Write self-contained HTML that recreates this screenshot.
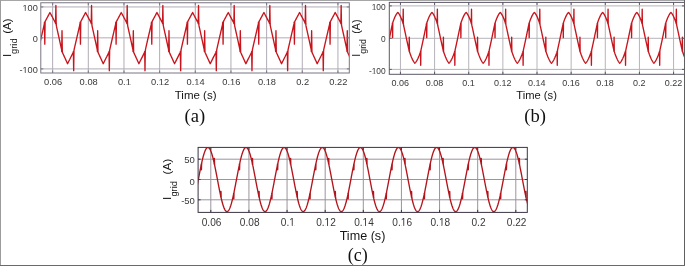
<!DOCTYPE html>
<html><head><meta charset="utf-8"><style>
html,body{margin:0;padding:0;background:#fff;}
body{width:685px;height:266px;overflow:hidden;position:relative;}
svg{position:absolute;left:0;top:0;font-family:"Liberation Sans",sans-serif;-webkit-font-smoothing:antialiased;will-change:transform;}
</style></head><body>
<svg width="685" height="266" viewBox="0 0 685 266">
<g>
<rect x="0" y="0" width="685" height="266" fill="#fff"/>
<clipPath id="ca"><rect x="40.8" y="2.75" width="308.5" height="70.25"/></clipPath>
<path d="M52.65 2.75V73M88.31 2.75V73M123.97 2.75V73M159.63 2.75V73M195.29 2.75V73M230.95 2.75V73M266.61 2.75V73M302.27 2.75V73M337.93 2.75V73M40.8 6.95H349.3M40.8 37.85H349.3M40.8 68.9H349.3" stroke="#b0acb6" stroke-width="1" fill="none"/>
<g clip-path="url(#ca)"><path d="M33.67,60.2 33.92,59.71 34.16,59.21 34.41,58.72 34.66,58.23 34.91,57.73 35.15,57.24 35.4,56.75 35.65,56.25 35.9,55.76 36.14,55.27 36.39,54.78 36.64,54.28 36.89,53.79 37.13,53.3 37.38,52.8 37.63,52.31 37.71,51.55 38.01,70.7 38.31,51.55 38.37,49.97 38.62,48.89 38.87,47.8 39.11,46.71 39.36,45.63 39.61,44.54 39.86,43.46 40.1,42.37 40.35,41.29 40.6,40.2 40.85,39.11 41.09,38.03 41.34,36.96 41.59,35.9 41.84,34.83 42.08,33.77 42.33,32.7 42.58,31.64 42.83,30.57 43.07,29.51 43.32,28.44 43.57,27.38 43.82,26.32 44.06,25.25 44.31,24.19 44.49,22.14 44.79,44.14 45.09,22.14 45.3,21.18 45.55,20.72 45.8,20.26 46.04,19.8 46.29,19.34 46.54,18.88 46.79,18.42 47.03,17.96 47.28,17.5 47.53,17.03 47.78,16.57 48.02,16.11 48.27,15.65 48.52,15.19 48.77,14.73 49.01,14.27 49.26,13.81 49.51,13.35 49.76,12.89 49.96,12.51 50,12.6 50.25,13.07 50.5,13.53 50.75,14 50.99,14.46 51.24,14.93 51.49,15.4 51.74,15.86 51.98,16.33 52.23,16.8 52.48,17.26 52.73,17.73 52.97,18.19 53.22,18.66 53.47,19.13 53.72,19.59 53.96,20.06 54.21,20.52 54.46,20.99 54.71,21.46 54.95,21.92 55.2,22.39 55.45,22.86 55.58,23.66 55.88,5.43 56.18,23.66 56.44,26.19 56.69,27.31 56.93,28.42 57.18,29.54 57.43,30.65 57.68,31.77 57.92,32.88 58.17,34 58.42,35.11 58.67,36.22 58.91,37.34 59.16,38.47 59.41,39.6 59.66,40.74 59.9,41.88 60.15,43.01 60.4,44.15 60.65,45.29 60.9,46.42 61.14,47.56 61.39,48.7 61.64,49.83 61.71,51.55 62.01,30.68 62.31,51.55 62.38,52.35 62.63,52.89 62.88,53.43 63.12,53.97 63.37,54.52 63.62,55.06 63.87,55.6 64.11,56.14 64.36,56.68 64.61,57.22 64.86,57.76 65.1,58.3 65.35,58.84 65.6,59.38 65.85,59.92 66.09,60.46 66.34,61 66.59,61.54 66.84,62.08 67.08,62.62 67.33,63.16 67.57,63.69 67.58,63.68 67.83,63.19 68.07,62.7 68.32,62.21 68.57,61.71 68.82,61.22 69.06,60.73 69.31,60.23 69.56,59.74 69.81,59.25 70.05,58.75 70.3,58.26 70.55,57.77 70.8,57.27 71.04,56.78 71.29,56.29 71.54,55.8 71.79,55.3 72.03,54.81 72.28,54.32 72.53,53.82 72.78,53.33 73.02,52.84 73.27,52.34 73.37,51.55 73.67,70.7 73.97,51.55 74.01,50.05 74.26,48.96 74.51,47.88 74.76,46.79 75,45.7 75.25,44.62 75.5,43.53 75.75,42.45 75.99,41.36 76.24,40.28 76.49,39.19 76.74,38.1 76.98,37.03 77.23,35.97 77.48,34.91 77.73,33.84 77.97,32.78 78.22,31.71 78.47,30.65 78.72,29.58 78.96,28.52 79.21,27.45 79.46,26.39 79.71,25.33 79.95,24.26 80.15,22.14 80.45,44.14 80.75,22.14 80.94,21.21 81.19,20.75 81.44,20.29 81.69,19.83 81.93,19.37 82.18,18.91 82.43,18.45 82.68,17.99 82.92,17.53 83.17,17.07 83.42,16.61 83.67,16.14 83.91,15.68 84.16,15.22 84.41,14.76 84.66,14.3 84.9,13.84 85.15,13.38 85.4,12.92 85.62,12.51 85.65,12.57 85.89,13.03 86.14,13.5 86.39,13.97 86.64,14.43 86.88,14.9 87.13,15.36 87.38,15.83 87.63,16.3 87.87,16.76 88.12,17.23 88.37,17.69 88.62,18.16 88.86,18.63 89.11,19.09 89.36,19.56 89.61,20.03 89.85,20.49 90.1,20.96 90.35,21.42 90.6,21.89 90.84,22.36 91.09,22.82 91.24,23.66 91.54,5.43 91.84,23.66 92.08,26.12 92.33,27.23 92.58,28.34 92.82,29.46 93.07,30.57 93.32,31.69 93.57,32.8 93.81,33.92 94.06,35.03 94.31,36.15 94.56,37.26 94.81,38.39 95.05,39.52 95.3,40.66 95.55,41.8 95.8,42.93 96.04,44.07 96.29,45.21 96.54,46.34 96.79,47.48 97.03,48.62 97.28,49.75 97.37,51.55 97.67,30.68 97.97,51.55 98.02,52.32 98.27,52.86 98.52,53.4 98.77,53.94 99.01,54.48 99.26,55.02 99.51,55.56 99.76,56.1 100,56.64 100.25,57.18 100.5,57.72 100.75,58.26 100.99,58.8 101.24,59.34 101.49,59.88 101.74,60.42 101.98,60.96 102.23,61.5 102.48,62.04 102.73,62.58 102.97,63.12 103.22,63.66 103.23,63.69 103.47,63.23 103.72,62.73 103.96,62.24 104.21,61.75 104.46,61.25 104.71,60.76 104.95,60.27 105.2,59.77 105.45,59.28 105.7,58.79 105.94,58.3 106.19,57.8 106.44,57.31 106.69,56.82 106.93,56.32 107.18,55.83 107.43,55.34 107.68,54.84 107.92,54.35 108.17,53.86 108.42,53.37 108.67,52.87 108.91,52.38 109.03,51.55 109.33,70.7 109.63,51.55 109.66,50.12 109.9,49.04 110.15,47.95 110.4,46.87 110.65,45.78 110.89,44.69 111.14,43.61 111.39,42.52 111.64,41.44 111.88,40.35 112.13,39.27 112.38,38.18 112.63,37.11 112.87,36.04 113.12,34.98 113.37,33.92 113.62,32.85 113.86,31.79 114.11,30.72 114.36,29.66 114.61,28.59 114.85,27.53 115.1,26.46 115.35,25.4 115.6,24.34 115.81,22.14 116.11,44.14 116.41,22.14 116.59,21.25 116.83,20.79 117.08,20.33 117.33,19.86 117.58,19.4 117.82,18.94 118.07,18.48 118.32,18.02 118.57,17.56 118.81,17.1 119.06,16.64 119.31,16.18 119.56,15.72 119.8,15.26 120.05,14.79 120.3,14.33 120.55,13.87 120.79,13.41 121.04,12.95 121.28,12.51 121.29,12.53 121.54,13 121.78,13.47 122.03,13.93 122.28,14.4 122.53,14.87 122.77,15.33 123.02,15.8 123.27,16.26 123.52,16.73 123.76,17.2 124.01,17.66 124.26,18.13 124.51,18.59 124.75,19.06 125,19.53 125.25,19.99 125.5,20.46 125.74,20.93 125.99,21.39 126.24,21.86 126.49,22.32 126.73,22.79 126.9,23.66 127.2,5.43 127.5,23.66 127.72,26.04 127.97,27.15 128.22,28.27 128.47,29.38 128.72,30.5 128.96,31.61 129.21,32.72 129.46,33.84 129.71,34.95 129.95,36.07 130.2,37.18 130.45,38.31 130.7,39.44 130.94,40.58 131.19,41.72 131.44,42.85 131.69,43.99 131.93,45.13 132.18,46.26 132.43,47.4 132.68,48.54 132.92,49.67 133.03,51.55 133.33,30.68 133.63,51.55 133.67,52.28 133.91,52.82 134.16,53.36 134.41,53.9 134.66,54.44 134.9,54.98 135.15,55.52 135.4,56.06 135.65,56.6 135.89,57.14 136.14,57.68 136.39,58.22 136.64,58.76 136.88,59.3 137.13,59.84 137.38,60.38 137.63,60.92 137.87,61.46 138.12,62.01 138.37,62.55 138.62,63.09 138.86,63.63 138.89,63.69 139.11,63.26 139.36,62.77 139.61,62.27 139.85,61.78 140.1,61.29 140.35,60.8 140.6,60.3 140.84,59.81 141.09,59.32 141.34,58.82 141.59,58.33 141.83,57.84 142.08,57.34 142.33,56.85 142.58,56.36 142.82,55.87 143.07,55.37 143.32,54.88 143.57,54.39 143.81,53.89 144.06,53.4 144.31,52.91 144.56,52.41 144.69,51.55 144.99,70.7 145.29,51.55 145.55,49.11 145.79,48.03 146.04,46.94 146.29,45.86 146.54,44.77 146.78,43.68 147.03,42.6 147.28,41.51 147.53,40.43 147.77,39.34 148.02,38.26 148.27,37.18 148.52,36.12 148.76,35.06 149.01,33.99 149.26,32.93 149.51,31.86 149.75,30.8 150,29.73 150.25,28.67 150.5,27.6 150.74,26.54 150.99,25.47 151.24,24.41 151.47,22.14 151.77,44.14 152.07,22.14 152.23,21.28 152.48,20.82 152.72,20.36 152.97,19.9 153.22,19.44 153.47,18.97 153.71,18.51 153.96,18.05 154.21,17.59 154.46,17.13 154.7,16.67 154.95,16.21 155.2,15.75 155.45,15.29 155.69,14.83 155.94,14.37 156.19,13.91 156.44,13.44 156.68,12.98 156.93,12.52 156.94,12.51 157.18,12.97 157.43,13.43 157.67,13.9 157.92,14.37 158.17,14.83 158.42,15.3 158.66,15.76 158.91,16.23 159.16,16.7 159.41,17.16 159.65,17.63 159.9,18.1 160.15,18.56 160.4,19.03 160.64,19.49 160.89,19.96 161.14,20.43 161.39,20.89 161.64,21.36 161.88,21.83 162.13,22.29 162.38,22.76 162.56,23.66 162.86,5.43 163.16,23.66 163.37,25.96 163.62,27.07 163.86,28.19 164.11,29.3 164.36,30.42 164.61,31.53 164.85,32.65 165.1,33.76 165.35,34.88 165.6,35.99 165.84,37.1 166.09,38.23 166.34,39.36 166.59,40.5 166.83,41.64 167.08,42.77 167.33,43.91 167.58,45.05 167.82,46.18 168.07,47.32 168.32,48.46 168.57,49.59 168.69,51.55 168.99,30.68 169.29,51.55 169.31,52.24 169.56,52.78 169.8,53.32 170.05,53.86 170.3,54.4 170.55,54.94 170.79,55.48 171.04,56.02 171.29,56.56 171.54,57.1 171.78,57.64 172.03,58.18 172.28,58.72 172.53,59.27 172.77,59.81 173.02,60.35 173.27,60.89 173.52,61.43 173.76,61.97 174.01,62.51 174.26,63.05 174.51,63.59 174.55,63.69 174.75,63.3 175,62.8 175.25,62.31 175.5,61.82 175.74,61.32 175.99,60.83 176.24,60.34 176.49,59.84 176.73,59.35 176.98,58.86 177.23,58.36 177.48,57.87 177.72,57.38 177.97,56.89 178.22,56.39 178.47,55.9 178.71,55.41 178.96,54.91 179.21,54.42 179.46,53.93 179.7,53.43 179.95,52.94 180.2,52.45 180.35,51.55 180.65,70.7 180.95,51.55 181.19,49.19 181.44,48.1 181.68,47.02 181.93,45.93 182.18,44.85 182.43,43.76 182.67,42.68 182.92,41.59 183.17,40.5 183.42,39.42 183.66,38.33 183.91,37.26 184.16,36.19 184.41,35.13 184.65,34.07 184.9,33 185.15,31.94 185.4,30.87 185.64,29.81 185.89,28.74 186.14,27.68 186.39,26.61 186.63,25.55 186.88,24.48 187.13,22.14 187.43,44.14 187.73,22.14 187.87,21.31 188.12,20.85 188.37,20.39 188.61,19.93 188.86,19.47 189.11,19.01 189.36,18.55 189.6,18.09 189.85,17.62 190.1,17.16 190.35,16.7 190.59,16.24 190.84,15.78 191.09,15.32 191.34,14.86 191.58,14.4 191.83,13.94 192.08,13.48 192.33,13.02 192.57,12.55 192.6,12.51 192.82,12.94 193.07,13.4 193.32,13.87 193.56,14.33 193.81,14.8 194.06,15.27 194.31,15.73 194.55,16.2 194.8,16.66 195.05,17.13 195.3,17.6 195.55,18.06 195.79,18.53 196.04,19 196.29,19.46 196.54,19.93 196.78,20.39 197.03,20.86 197.28,21.33 197.53,21.79 197.77,22.26 198.02,22.72 198.22,23.66 198.52,5.43 198.82,23.66 199.01,25.88 199.26,27 199.51,28.11 199.75,29.22 200,30.34 200.25,31.45 200.5,32.57 200.74,33.68 200.99,34.8 201.24,35.91 201.49,37.03 201.73,38.15 201.98,39.28 202.23,40.42 202.48,41.56 202.72,42.69 202.97,43.83 203.22,44.97 203.47,46.1 203.71,47.24 203.96,48.38 204.21,49.51 204.35,51.55 204.65,30.68 204.95,51.55 205.2,52.74 205.45,53.28 205.69,53.82 205.94,54.36 206.19,54.9 206.44,55.44 206.68,55.98 206.93,56.53 207.18,57.07 207.43,57.61 207.67,58.15 207.92,58.69 208.17,59.23 208.42,59.77 208.66,60.31 208.91,60.85 209.16,61.39 209.41,61.93 209.65,62.47 209.9,63.01 210.15,63.55 210.21,63.69 210.4,63.33 210.64,62.84 210.89,62.34 211.14,61.85 211.39,61.36 211.63,60.86 211.88,60.37 212.13,59.88 212.38,59.39 212.62,58.89 212.87,58.4 213.12,57.91 213.37,57.41 213.61,56.92 213.86,56.43 214.11,55.93 214.36,55.44 214.6,54.95 214.85,54.46 215.1,53.96 215.35,53.47 215.59,52.98 215.84,52.48 216.01,51.55 216.31,70.7 216.61,51.55 216.83,49.27 217.08,48.18 217.33,47.09 217.57,46.01 217.82,44.92 218.07,43.84 218.32,42.75 218.56,41.67 218.81,40.58 219.06,39.49 219.31,38.41 219.55,37.33 219.8,36.27 220.05,35.2 220.3,34.14 220.54,33.08 220.79,32.01 221.04,30.95 221.29,29.88 221.53,28.82 221.78,27.75 222.03,26.69 222.28,25.62 222.52,24.56 222.79,22.14 223.09,44.14 223.39,22.14 223.51,21.34 223.76,20.88 224.01,20.42 224.26,19.96 224.5,19.5 224.75,19.04 225,18.58 225.25,18.12 225.49,17.66 225.74,17.2 225.99,16.74 226.24,16.27 226.48,15.81 226.73,15.35 226.98,14.89 227.23,14.43 227.47,13.97 227.72,13.51 227.97,13.05 228.22,12.59 228.26,12.51 228.46,12.9 228.71,13.37 228.96,13.83 229.21,14.3 229.46,14.77 229.7,15.23 229.95,15.7 230.2,16.17 230.45,16.63 230.69,17.1 230.94,17.56 231.19,18.03 231.44,18.5 231.68,18.96 231.93,19.43 232.18,19.9 232.43,20.36 232.67,20.83 232.92,21.29 233.17,21.76 233.42,22.23 233.66,22.69 233.88,23.66 234.18,5.43 234.48,23.66 234.65,25.8 234.9,26.92 235.15,28.03 235.4,29.15 235.64,30.26 235.89,31.38 236.14,32.49 236.39,33.6 236.63,34.72 236.88,35.83 237.13,36.95 237.38,38.07 237.62,39.2 237.87,40.34 238.12,41.48 238.37,42.61 238.61,43.75 238.86,44.89 239.11,46.02 239.36,47.16 239.6,48.3 239.85,49.43 240.01,51.55 240.31,30.68 240.61,51.55 240.84,52.7 241.09,53.24 241.34,53.79 241.58,54.33 241.83,54.87 242.08,55.41 242.33,55.95 242.57,56.49 242.82,57.03 243.07,57.57 243.32,58.11 243.56,58.65 243.81,59.19 244.06,59.73 244.31,60.27 244.55,60.81 244.8,61.35 245.05,61.89 245.3,62.43 245.54,62.97 245.79,63.51 245.87,63.69 246.04,63.36 246.29,62.87 246.53,62.38 246.78,61.88 247.03,61.39 247.28,60.9 247.52,60.41 247.77,59.91 248.02,59.42 248.27,58.93 248.51,58.43 248.76,57.94 249.01,57.45 249.26,56.95 249.5,56.46 249.75,55.97 250,55.48 250.25,54.98 250.49,54.49 250.74,54 250.99,53.5 251.24,53.01 251.48,52.52 251.67,51.55 251.97,70.7 252.27,51.55 252.47,49.34 252.72,48.26 252.97,47.17 253.22,46.08 253.46,45 253.71,43.91 253.96,42.83 254.21,41.74 254.45,40.66 254.7,39.57 254.95,38.48 255.2,37.41 255.44,36.34 255.69,35.28 255.94,34.21 256.19,33.15 256.43,32.09 256.68,31.02 256.93,29.96 257.18,28.89 257.42,27.83 257.67,26.76 257.92,25.7 258.17,24.63 258.41,23.57 258.45,22.14 258.75,44.14 259.05,22.14 259.16,21.38 259.4,20.92 259.65,20.45 259.9,19.99 260.15,19.53 260.39,19.07 260.64,18.61 260.89,18.15 261.14,17.69 261.38,17.23 261.63,16.77 261.88,16.31 262.13,15.85 262.38,15.38 262.62,14.92 262.87,14.46 263.12,14 263.37,13.54 263.61,13.08 263.86,12.62 263.92,12.51 264.11,12.87 264.36,13.34 264.6,13.8 264.85,14.27 265.1,14.73 265.35,15.2 265.59,15.67 265.84,16.13 266.09,16.6 266.34,17.07 266.58,17.53 266.83,18 267.08,18.46 267.33,18.93 267.57,19.4 267.82,19.86 268.07,20.33 268.32,20.79 268.56,21.26 268.81,21.73 269.06,22.19 269.31,22.66 269.54,23.66 269.84,5.43 270.14,23.66 270.3,25.72 270.54,26.84 270.79,27.95 271.04,29.07 271.29,30.18 271.53,31.3 271.78,32.41 272.03,33.53 272.28,34.64 272.52,35.76 272.77,36.87 273.02,37.99 273.27,39.12 273.51,40.26 273.76,41.4 274.01,42.53 274.26,43.67 274.5,44.81 274.75,45.94 275,47.08 275.25,48.22 275.49,49.35 275.67,51.55 275.97,30.68 276.27,51.55 276.48,52.67 276.73,53.21 276.98,53.75 277.23,54.29 277.47,54.83 277.72,55.37 277.97,55.91 278.22,56.45 278.46,56.99 278.71,57.53 278.96,58.07 279.21,58.61 279.45,59.15 279.7,59.69 279.95,60.23 280.2,60.77 280.44,61.31 280.69,61.85 280.94,62.39 281.19,62.93 281.43,63.48 281.53,63.69 281.68,63.4 281.93,62.91 282.18,62.41 282.42,61.92 282.67,61.43 282.92,60.93 283.17,60.44 283.41,59.95 283.66,59.45 283.91,58.96 284.16,58.47 284.4,57.98 284.65,57.48 284.9,56.99 285.15,56.5 285.39,56 285.64,55.51 285.89,55.02 286.14,54.52 286.38,54.03 286.63,53.54 286.88,53.05 287.13,52.55 287.33,51.55 287.63,70.7 287.93,51.55 288.12,49.42 288.36,48.33 288.61,47.25 288.86,46.16 289.11,45.07 289.35,43.99 289.6,42.9 289.85,41.82 290.1,40.73 290.34,39.65 290.59,38.56 290.84,37.48 291.09,36.42 291.33,35.35 291.58,34.29 291.83,33.22 292.08,32.16 292.32,31.1 292.57,30.03 292.82,28.97 293.07,27.9 293.31,26.84 293.56,25.77 293.81,24.71 294.06,23.64 294.11,22.14 294.41,44.14 294.71,22.14 294.8,21.41 295.05,20.95 295.29,20.49 295.54,20.03 295.79,19.57 296.04,19.1 296.29,18.64 296.53,18.18 296.78,17.72 297.03,17.26 297.28,16.8 297.52,16.34 297.77,15.88 298.02,15.42 298.27,14.96 298.51,14.5 298.76,14.03 299.01,13.57 299.26,13.11 299.5,12.65 299.58,12.51 299.75,12.84 300,13.3 300.25,13.77 300.49,14.24 300.74,14.7 300.99,15.17 301.24,15.63 301.48,16.1 301.73,16.57 301.98,17.03 302.23,17.5 302.47,17.96 302.72,18.43 302.97,18.9 303.22,19.36 303.46,19.83 303.71,20.3 303.96,20.76 304.21,21.23 304.45,21.69 304.7,22.16 304.95,22.63 305.2,23.66 305.5,5.43 305.8,23.66 305.94,25.65 306.19,26.76 306.43,27.88 306.68,28.99 306.93,30.1 307.18,31.22 307.42,32.33 307.67,33.45 307.92,34.56 308.17,35.68 308.41,36.79 308.66,37.91 308.91,39.04 309.16,40.18 309.4,41.32 309.65,42.45 309.9,43.59 310.15,44.73 310.39,45.86 310.64,47 310.89,48.14 311.14,49.28 311.33,51.55 311.63,30.68 311.93,51.55 312.13,52.63 312.37,53.17 312.62,53.71 312.87,54.25 313.12,54.79 313.36,55.33 313.61,55.87 313.86,56.41 314.11,56.95 314.35,57.49 314.6,58.03 314.85,58.57 315.1,59.11 315.34,59.65 315.59,60.19 315.84,60.74 316.09,61.28 316.33,61.82 316.58,62.36 316.83,62.9 317.08,63.44 317.19,63.69 317.32,63.43 317.57,62.94 317.82,62.45 318.07,61.95 318.31,61.46 318.56,60.97 318.81,60.48 319.06,59.98 319.3,59.49 319.55,59 319.8,58.5 320.05,58.01 320.29,57.52 320.54,57.02 320.79,56.53 321.04,56.04 321.28,55.54 321.53,55.05 321.78,54.56 322.03,54.07 322.27,53.57 322.52,53.08 322.77,52.59 322.99,51.55 323.29,70.7 323.59,51.55 323.76,49.49 324.01,48.41 324.25,47.32 324.5,46.24 324.75,45.15 325,44.07 325.24,42.98 325.49,41.89 325.74,40.81 325.99,39.72 326.23,38.64 326.48,37.56 326.73,36.49 326.98,35.43 327.22,34.36 327.47,33.3 327.72,32.23 327.97,31.17 328.21,30.11 328.46,29.04 328.71,27.98 328.96,26.91 329.2,25.85 329.45,24.78 329.7,23.72 329.77,22.14 330.07,44.14 330.37,22.14 330.44,21.44 330.69,20.98 330.94,20.52 331.19,20.06 331.43,19.6 331.68,19.14 331.93,18.68 332.18,18.21 332.42,17.75 332.67,17.29 332.92,16.83 333.17,16.37 333.41,15.91 333.66,15.45 333.91,14.99 334.16,14.53 334.4,14.07 334.65,13.61 334.9,13.14 335.15,12.68 335.24,12.51 335.39,12.8 335.64,13.27 335.89,13.74 336.14,14.2 336.38,14.67 336.63,15.14 336.88,15.6 337.13,16.07 337.37,16.53 337.62,17 337.87,17.47 338.12,17.93 338.36,18.4 338.61,18.86 338.86,19.33 339.11,19.8 339.35,20.26 339.6,20.73 339.85,21.2 340.1,21.66 340.34,22.13 340.59,22.59 340.84,23.06 340.86,23.66 341.16,5.43 341.46,23.66 341.58,25.57 341.83,26.68 342.08,27.8 342.32,28.91 342.57,30.03 342.82,31.14 343.07,32.26 343.31,33.37 343.56,34.48 343.81,35.6 344.06,36.71 344.3,37.83 344.55,38.96 344.8,40.1 345.05,41.24 345.29,42.38 345.54,43.51 345.79,44.65 346.04,45.79 346.28,46.92 346.53,48.06 346.78,49.2 346.99,51.55 347.29,30.68 347.59,51.55 347.77,52.59 348.02,53.13 348.26,53.67 348.51,54.21 348.76,54.75 349.01,55.29 349.25,55.83 349.5,56.37 349.75,56.91 350,57.45 350.24,57.99 350.49,58.54 350.74,59.08 350.99,59.62 351.23,60.16 351.48,60.7 351.73,61.24 351.98,61.78 352.22,62.32 352.47,62.86 352.72,63.4 352.85,63.69 352.97,63.47 353.21,62.97 353.46,62.48 353.71,61.99 353.96,61.5 354.2,61 354.45,60.51 354.7,60.02 354.95,59.52 355.19,59.03 355.44,58.54 355.69,58.04 355.94,57.55 356.18,57.06 356.43,56.57" stroke="#c8141c" stroke-width="1.35" fill="none" stroke-linejoin="round"/></g>
<path d="M52.65 73v-2.5M52.65 2.75v2.5M88.31 73v-2.5M88.31 2.75v2.5M123.97 73v-2.5M123.97 2.75v2.5M159.63 73v-2.5M159.63 2.75v2.5M195.29 73v-2.5M195.29 2.75v2.5M230.95 73v-2.5M230.95 2.75v2.5M266.61 73v-2.5M266.61 2.75v2.5M302.27 73v-2.5M302.27 2.75v2.5M337.93 73v-2.5M337.93 2.75v2.5M40.8 6.95h2.5M349.3 6.95h-2.5M40.8 37.85h2.5M349.3 37.85h-2.5M40.8 68.9h2.5M349.3 68.9h-2.5" stroke="#7a7684" stroke-width="1" fill="none"/>
<rect x="40.8" y="2.75" width="308.5" height="70.25" stroke="#7a7684" stroke-width="1" fill="none"/>
<text transform="translate(43.96,85.15) scale(1.07,1)" font-size="8.7" fill="#383838">0.06</text>
<text transform="translate(79.62,85.15) scale(1.07,1)" font-size="8.7" fill="#383838">0.08</text>
<g transform="translate(117.9,85.15) scale(1.07,1)"><text x="0" y="0" font-size="8.7" fill="#383838">0.1</text><g fill="#fff"><rect x="7.77" y="-0.73" width="1.68" height="1.28"/><rect x="10.21" y="-0.73" width="1.61" height="1.28"/></g></g>
<g transform="translate(150.97,85.15) scale(1.07,1)"><text x="0" y="0" font-size="8.7" fill="#383838">0.12</text><g fill="#fff"><rect x="7.77" y="-0.73" width="1.68" height="1.28"/><rect x="10.21" y="-0.73" width="1.61" height="1.28"/></g></g>
<g transform="translate(186.54,85.15) scale(1.07,1)"><text x="0" y="0" font-size="8.7" fill="#383838">0.14</text><g fill="#fff"><rect x="7.77" y="-0.73" width="1.68" height="1.28"/><rect x="10.21" y="-0.73" width="1.61" height="1.28"/></g></g>
<g transform="translate(222.26,85.15) scale(1.07,1)"><text x="0" y="0" font-size="8.7" fill="#383838">0.16</text><g fill="#fff"><rect x="7.77" y="-0.73" width="1.68" height="1.28"/><rect x="10.21" y="-0.73" width="1.61" height="1.28"/></g></g>
<g transform="translate(257.92,85.15) scale(1.07,1)"><text x="0" y="0" font-size="8.7" fill="#383838">0.18</text><g fill="#fff"><rect x="7.77" y="-0.73" width="1.68" height="1.28"/><rect x="10.21" y="-0.73" width="1.61" height="1.28"/></g></g>
<text transform="translate(296.2,85.15) scale(1.07,1)" font-size="8.7" fill="#383838">0.2</text>
<text transform="translate(329.27,85.15) scale(1.07,1)" font-size="8.7" fill="#383838">0.22</text>
<g transform="translate(22.51,10.55) scale(1.07,1)"><text x="0" y="0" font-size="8.6" fill="#383838">100</text><g fill="#fff"><rect x="0.5" y="-0.72" width="1.66" height="1.27"/><rect x="2.92" y="-0.72" width="1.6" height="1.27"/></g></g>
<text transform="translate(32.74,41.65) scale(1.07,1)" font-size="8.6" fill="#383838">0</text>
<g transform="translate(19.44,72.65) scale(1.07,1)"><text x="0" y="0" font-size="8.6" fill="#383838">-100</text><g fill="#fff"><rect x="3.37" y="-0.72" width="1.66" height="1.27"/><rect x="5.79" y="-0.72" width="1.6" height="1.27"/></g></g>
<text x="174.75" y="99.2" font-size="11.5" fill="#161616">Time (s)</text>
<text transform="translate(10.9,57.1) rotate(-90)" font-size="11.5" fill="#161616">I</text>
<text transform="translate(16.8,53.9) rotate(-90)" font-size="9.3" fill="#161616">grid</text>
<text transform="translate(10.9,33.76) rotate(-90)" font-size="11.5" fill="#161616">(A)</text>
<text x="184.58" y="121.5" font-size="18.6" fill="#111" font-family="Liberation Serif">(a)</text>
<clipPath id="cb"><rect x="389.3" y="2.4" width="295.2" height="71.9"/></clipPath>
<path d="M400.45 2.4V74.3M434.59 2.4V74.3M468.73 2.4V74.3M502.87 2.4V74.3M537.01 2.4V74.3M571.15 2.4V74.3M605.29 2.4V74.3M639.43 2.4V74.3M673.57 2.4V74.3M389.3 5.9H684.5M389.3 38.3H684.5M389.3 69.4H684.5" stroke="#b6b4ba" stroke-width="1" fill="none"/>
<g clip-path="url(#cb)"><path d="M382.47,60.94 382.71,60.53 382.95,60.11 383.18,59.66 383.42,59.19 383.66,58.7 383.89,58.19 384.13,57.66 384.37,57.11 384.61,56.54 384.84,55.96 385.08,55.36 385.32,54.74 385.55,54.1 385.79,53.45 386.03,52.79 386.26,52.11 386.38,51.26 386.56,65.25 386.73,51.26 386.98,49.39 387.21,48.33 387.45,47.25 387.69,46.17 387.92,45.08 388.16,43.99 388.4,42.89 388.63,41.79 388.87,40.68 389.11,39.57 389.35,38.46 389.58,37.32 389.82,36.16 390.06,35.01 390.29,33.86 390.53,32.72 390.77,31.58 391.01,30.45 391.24,29.33 391.48,28.22 391.72,27.11 391.95,26.02 392.19,24.94 392.42,23.11 392.6,37.69 392.77,23.11 392.9,22.22 393.14,21.55 393.38,20.89 393.61,20.25 393.85,19.63 394.09,19.03 394.32,18.44 394.56,17.88 394.8,17.34 395.03,16.81 395.27,16.31 395.51,15.83 395.75,15.37 395.98,14.94 396.22,14.53 396.46,14.14 396.69,13.78 396.93,13.44 397.17,13.12 397.41,12.83 397.64,12.56 397.82,12.38 397.88,12.44 398.12,12.7 398.35,12.98 398.59,13.29 398.83,13.62 399.06,13.97 399.3,14.35 399.54,14.75 399.78,15.18 400.01,15.63 400.25,16.1 400.49,16.6 400.72,17.11 400.96,17.65 401.2,18.21 401.43,18.79 401.67,19.39 401.91,20 402.15,20.64 402.38,21.29 402.62,21.96 402.86,22.64 403.04,23.7 403.22,9.12 403.39,23.7 403.57,25.25 403.81,26.31 404.04,27.38 404.28,28.46 404.52,29.55 404.75,30.64 404.99,31.75 405.23,32.86 405.46,33.97 405.7,35.09 405.94,36.21 406.18,37.34 406.41,38.45 406.65,39.53 406.89,40.61 407.12,41.69 407.36,42.76 407.6,43.83 407.83,44.89 408.07,45.94 408.31,46.99 408.55,48.03 408.78,49.07 409.02,50.09 409.08,51.1 409.26,37.06 409.43,51.1 409.49,51.81 409.73,52.51 409.97,53.19 410.21,53.87 410.44,54.52 410.68,55.16 410.92,55.78 411.15,56.39 411.39,56.97 411.63,57.54 411.86,58.09 412.1,58.62 412.34,59.13 412.58,59.61 412.81,60.08 413.05,60.52 413.29,60.94 413.52,61.34 413.76,61.71 414,62.06 414.23,62.39 414.47,62.7 414.71,62.98 414.89,63.18 414.95,63.13 415.18,62.89 415.42,62.62 415.66,62.33 415.89,62.02 416.13,61.69 416.37,61.33 416.6,60.95 416.84,60.55 417.08,60.12 417.32,59.67 417.55,59.21 417.79,58.72 418.03,58.21 418.26,57.68 418.5,57.13 418.74,56.56 418.98,55.98 419.21,55.37 419.45,54.75 419.69,54.12 419.92,53.47 420.16,52.81 420.4,52.13 420.52,51.26 420.7,65.25 420.87,51.26 421.11,49.43 421.35,48.36 421.58,47.29 421.82,46.21 422.06,45.12 422.29,44.02 422.53,42.92 422.77,41.82 423,40.71 423.24,39.61 423.48,38.5 423.72,37.35 423.95,36.2 424.19,35.05 424.43,33.9 424.66,32.76 424.9,31.62 425.14,30.49 425.38,29.36 425.61,28.25 425.85,27.14 426.09,26.05 426.32,24.97 426.56,23.11 426.74,37.69 426.91,23.11 427.03,22.24 427.27,21.57 427.51,20.91 427.75,20.27 427.98,19.65 428.22,19.05 428.46,18.46 428.69,17.9 428.93,17.35 429.17,16.83 429.4,16.33 429.64,15.84 429.88,15.39 430.12,14.95 430.35,14.54 430.59,14.15 430.83,13.79 431.06,13.45 431.3,13.13 431.54,12.84 431.78,12.57 431.96,12.38 432.01,12.43 432.25,12.69 432.49,12.97 432.72,13.28 432.96,13.61 433.2,13.96 433.43,14.34 433.67,14.74 433.91,15.17 434.15,15.62 434.38,16.09 434.62,16.58 434.86,17.1 435.09,17.64 435.33,18.19 435.57,18.77 435.8,19.37 436.04,19.98 436.28,20.62 436.52,21.27 436.75,21.94 436.99,22.62 437.18,23.7 437.36,9.12 437.53,23.7 437.7,25.22 437.94,26.28 438.18,27.35 438.41,28.43 438.65,29.51 438.89,30.61 439.12,31.71 439.36,32.82 439.6,33.94 439.83,35.06 440.07,36.18 440.31,37.3 440.55,38.42 440.78,39.5 441.02,40.58 441.26,41.65 441.49,42.73 441.73,43.79 441.97,44.86 442.2,45.91 442.44,46.96 442.68,48 442.92,49.03 443.15,50.06 443.22,51.1 443.4,37.06 443.57,51.1 443.63,51.79 443.86,52.49 444.1,53.17 444.34,53.85 444.58,54.5 444.81,55.14 445.05,55.77 445.29,56.37 445.52,56.96 445.76,57.53 446,58.07 446.23,58.6 446.47,59.11 446.71,59.6 446.95,60.06 447.18,60.51 447.42,60.93 447.66,61.33 447.89,61.7 448.13,62.05 448.37,62.38 448.6,62.69 448.84,62.97 449.03,63.18 449.08,63.13 449.32,62.89 449.55,62.63 449.79,62.34 450.03,62.03 450.26,61.7 450.5,61.34 450.74,60.96 450.97,60.56 451.21,60.13 451.45,59.69 451.69,59.22 451.92,58.73 452.16,58.22 452.4,57.69 452.63,57.15 452.87,56.58 453.11,55.99 453.35,55.39 453.58,54.77 453.82,54.14 454.06,53.49 454.29,52.83 454.53,52.15 454.66,51.26 454.84,65.25 455.01,51.26 455.24,49.46 455.48,48.39 455.72,47.32 455.95,46.24 456.19,45.15 456.43,44.05 456.66,42.96 456.9,41.85 457.14,40.75 457.37,39.64 457.61,38.53 457.85,37.39 458.09,36.23 458.32,35.08 458.56,33.93 458.8,32.79 459.03,31.65 459.27,30.52 459.51,29.4 459.75,28.28 459.98,27.18 460.22,26.08 460.46,25 460.69,23.93 460.7,23.11 460.88,37.69 461.05,23.11 461.17,22.26 461.4,21.59 461.64,20.93 461.88,20.29 462.12,19.67 462.35,19.06 462.59,18.48 462.83,17.91 463.06,17.37 463.3,16.84 463.54,16.34 463.77,15.86 464.01,15.4 464.25,14.96 464.49,14.55 464.72,14.16 464.96,13.8 465.2,13.46 465.43,13.14 465.67,12.85 465.91,12.58 466.1,12.38 466.15,12.42 466.38,12.68 466.62,12.96 466.86,13.27 467.09,13.6 467.33,13.95 467.57,14.33 467.8,14.73 468.04,15.16 468.28,15.6 468.52,16.07 468.75,16.57 468.99,17.08 469.23,17.62 469.46,18.18 469.7,18.75 469.94,19.35 470.17,19.97 470.41,20.6 470.65,21.25 470.89,21.92 471.12,22.6 471.32,23.7 471.5,9.12 471.67,23.7 471.83,25.19 472.07,26.25 472.31,27.32 472.55,28.39 472.78,29.48 473.02,30.58 473.26,31.68 473.49,32.79 473.73,33.9 473.97,35.02 474.2,36.15 474.44,37.27 474.68,38.39 474.92,39.47 475.15,40.55 475.39,41.62 475.63,42.69 475.86,43.76 476.1,44.83 476.34,45.88 476.57,46.93 476.81,47.97 477.05,49 477.29,50.03 477.36,51.1 477.54,37.06 477.71,51.1 477.76,51.77 478,52.47 478.23,53.15 478.47,53.83 478.71,54.48 478.95,55.12 479.18,55.75 479.42,56.35 479.66,56.94 479.89,57.51 480.13,58.06 480.37,58.59 480.6,59.1 480.84,59.58 481.08,60.05 481.32,60.49 481.55,60.92 481.79,61.32 482.03,61.69 482.26,62.04 482.5,62.37 482.74,62.68 482.97,62.96 483.17,63.18 483.21,63.14 483.45,62.9 483.69,62.64 483.92,62.35 484.16,62.04 484.4,61.71 484.63,61.35 484.87,60.97 485.11,60.57 485.34,60.15 485.58,59.7 485.82,59.23 486.06,58.75 486.29,58.24 486.53,57.71 486.77,57.16 487,56.6 487.24,56.01 487.48,55.41 487.72,54.79 487.95,54.16 488.19,53.51 488.43,52.85 488.66,52.17 488.8,51.26 488.98,65.25 489.15,51.26 489.37,49.49 489.61,48.42 489.85,47.35 490.09,46.27 490.32,45.18 490.56,44.09 490.8,42.99 491.03,41.89 491.27,40.78 491.51,39.67 491.74,38.56 491.98,37.42 492.22,36.27 492.46,35.11 492.69,33.97 492.93,32.82 493.17,31.69 493.4,30.55 493.64,29.43 493.88,28.32 494.12,27.21 494.35,26.11 494.59,25.03 494.83,23.96 494.84,23.11 495.02,37.69 495.19,23.11 495.3,22.28 495.54,21.61 495.77,20.95 496.01,20.31 496.25,19.69 496.49,19.08 496.72,18.5 496.96,17.93 497.2,17.38 497.43,16.86 497.67,16.35 497.91,15.87 498.14,15.41 498.38,14.98 498.62,14.56 498.86,14.17 499.09,13.81 499.33,13.47 499.57,13.15 499.8,12.86 500.04,12.59 500.24,12.38 500.28,12.42 500.52,12.67 500.75,12.95 500.99,13.26 501.23,13.59 501.46,13.94 501.7,14.32 501.94,14.72 502.17,15.14 502.41,15.59 502.65,16.06 502.89,16.55 503.12,17.07 503.36,17.6 503.6,18.16 503.83,18.74 504.07,19.33 504.31,19.95 504.54,20.58 504.78,21.23 505.02,21.9 505.26,22.58 505.46,23.7 505.64,9.12 505.81,23.7 505.97,25.16 506.2,26.22 506.44,27.28 506.68,28.36 506.92,29.45 507.15,30.55 507.39,31.65 507.63,32.76 507.86,33.87 508.1,34.99 508.34,36.11 508.57,37.24 508.81,38.36 509.05,39.44 509.29,40.51 509.52,41.59 509.76,42.66 510,43.73 510.23,44.79 510.47,45.85 510.71,46.9 510.94,47.94 511.18,48.97 511.42,50 511.5,51.1 511.68,37.06 511.85,51.1 511.89,51.75 512.13,52.45 512.37,53.13 512.6,53.81 512.84,54.46 513.08,55.1 513.32,55.73 513.55,56.34 513.79,56.92 514.03,57.49 514.26,58.04 514.5,58.57 514.74,59.08 514.97,59.57 515.21,60.04 515.45,60.48 515.69,60.9 515.92,61.3 516.16,61.68 516.4,62.03 516.63,62.37 516.87,62.67 517.11,62.96 517.31,63.18 517.34,63.15 517.58,62.91 517.82,62.65 518.06,62.36 518.29,62.05 518.53,61.72 518.77,61.36 519,60.98 519.24,60.58 519.48,60.16 519.71,59.72 519.95,59.25 520.19,58.76 520.43,58.25 520.66,57.73 520.9,57.18 521.14,56.61 521.37,56.03 521.61,55.43 521.85,54.81 522.09,54.18 522.32,53.53 522.56,52.86 522.8,52.19 522.94,51.26 523.12,65.25 523.29,51.26 523.51,49.52 523.74,48.46 523.98,47.38 524.22,46.3 524.46,45.21 524.69,44.12 524.93,43.02 525.17,41.92 525.4,40.81 525.64,39.7 525.88,38.6 526.11,37.45 526.35,36.3 526.59,35.15 526.83,34 527.06,32.86 527.3,31.72 527.54,30.59 527.77,29.46 528.01,28.35 528.25,27.24 528.49,26.15 528.72,25.06 528.96,23.99 528.98,23.11 529.16,37.69 529.33,23.11 529.43,22.3 529.67,21.63 529.91,20.97 530.14,20.33 530.38,19.7 530.62,19.1 530.86,18.51 531.09,17.95 531.33,17.4 531.57,16.87 531.8,16.37 532.04,15.89 532.28,15.43 532.51,14.99 532.75,14.58 532.99,14.18 533.23,13.82 533.46,13.48 533.7,13.16 533.94,12.86 534.17,12.59 534.38,12.38 534.41,12.41 534.65,12.67 534.89,12.94 535.12,13.25 535.36,13.58 535.6,13.93 535.83,14.31 536.07,14.71 536.31,15.13 536.54,15.58 536.78,16.05 537.02,16.54 537.26,17.05 537.49,17.59 537.73,18.14 537.97,18.72 538.2,19.31 538.44,19.93 538.68,20.56 538.91,21.21 539.15,21.88 539.39,22.56 539.6,23.7 539.78,9.12 539.95,23.7 540.1,25.13 540.34,26.18 540.57,27.25 540.81,28.33 541.05,29.42 541.29,30.51 541.52,31.62 541.76,32.72 542,33.84 542.23,34.96 542.47,36.08 542.71,37.2 542.94,38.33 543.18,39.4 543.42,40.48 543.66,41.56 543.89,42.63 544.13,43.7 544.37,44.76 544.6,45.82 544.84,46.87 545.08,47.91 545.31,48.94 545.55,49.97 545.64,51.1 545.82,37.06 545.99,51.1 546.03,51.73 546.26,52.43 546.5,53.11 546.74,53.79 546.97,54.44 547.21,55.09 547.45,55.71 547.69,56.32 547.92,56.91 548.16,57.48 548.4,58.03 548.63,58.56 548.87,59.07 549.11,59.56 549.34,60.02 549.58,60.47 549.82,60.89 550.06,61.29 550.29,61.67 550.53,62.02 550.77,62.36 551,62.66 551.24,62.95 551.45,63.18 551.48,63.15 551.71,62.92 551.95,62.66 552.19,62.37 552.43,62.06 552.66,61.73 552.9,61.37 553.14,61 553.37,60.6 553.61,60.17 553.85,59.73 554.09,59.26 554.32,58.78 554.56,58.27 554.8,57.74 555.03,57.2 555.27,56.63 555.51,56.05 555.74,55.45 555.98,54.83 556.22,54.2 556.46,53.55 556.69,52.88 556.93,52.21 557.08,51.26 557.26,65.25 557.43,51.26 557.64,49.55 557.88,48.49 558.11,47.41 558.35,46.33 558.59,45.25 558.83,44.15 559.06,43.05 559.3,41.95 559.54,40.85 559.77,39.74 560.01,38.63 560.25,37.49 560.48,36.33 560.72,35.18 560.96,34.03 561.2,32.89 561.43,31.75 561.67,30.62 561.91,29.5 562.14,28.38 562.38,27.28 562.62,26.18 562.86,25.1 563.09,24.02 563.12,23.11 563.3,37.69 563.47,23.11 563.57,22.32 563.8,21.65 564.04,20.99 564.28,20.35 564.51,19.72 564.75,19.12 564.99,18.53 565.23,17.96 565.46,17.42 565.7,16.89 565.94,16.38 566.17,15.9 566.41,15.44 566.65,15 566.88,14.59 567.12,14.2 567.36,13.83 567.6,13.49 567.83,13.17 568.07,12.87 568.31,12.6 568.52,12.38 568.54,12.4 568.78,12.66 569.02,12.94 569.26,13.24 569.49,13.57 569.73,13.92 569.97,14.29 570.2,14.69 570.44,15.12 570.68,15.56 570.91,16.03 571.15,16.52 571.39,17.04 571.63,17.57 571.86,18.13 572.1,18.7 572.34,19.3 572.57,19.91 572.81,20.54 573.05,21.19 573.28,21.86 573.52,22.54 573.74,23.7 573.92,9.12 574.09,23.7 574.23,25.1 574.47,26.15 574.71,27.22 574.94,28.3 575.18,29.39 575.42,30.48 575.66,31.58 575.89,32.69 576.13,33.81 576.37,34.92 576.6,36.05 576.84,37.17 577.08,38.29 577.31,39.37 577.55,40.45 577.79,41.53 578.03,42.6 578.26,43.67 578.5,44.73 578.74,45.79 578.97,46.84 579.21,47.88 579.45,48.91 579.68,49.94 579.78,51.1 579.96,37.06 580.13,51.1 580.16,51.71 580.4,52.41 580.63,53.09 580.87,53.77 581.11,54.43 581.34,55.07 581.58,55.69 581.82,56.3 582.06,56.89 582.29,57.46 582.53,58.01 582.77,58.54 583,59.05 583.24,59.54 583.48,60.01 583.71,60.46 583.95,60.88 584.19,61.28 584.43,61.66 584.66,62.01 584.9,62.35 585.14,62.65 585.37,62.94 585.59,63.18 585.61,63.16 585.85,62.92 586.08,62.66 586.32,62.38 586.56,62.07 586.8,61.74 587.03,61.39 587.27,61.01 587.51,60.61 587.74,60.19 587.98,59.74 588.22,59.28 588.46,58.79 588.69,58.28 588.93,57.76 589.17,57.21 589.4,56.65 589.64,56.06 589.88,55.46 590.11,54.85 590.35,54.21 590.59,53.57 590.83,52.9 591.06,52.23 591.22,51.26 591.4,65.25 591.57,51.26 591.77,49.58 592.01,48.52 592.25,47.45 592.48,46.37 592.72,45.28 592.96,44.18 593.2,43.09 593.43,41.98 593.67,40.88 593.91,39.77 594.14,38.66 594.38,37.52 594.62,36.37 594.85,35.22 595.09,34.07 595.33,32.92 595.57,31.79 595.8,30.65 596.04,29.53 596.28,28.41 596.51,27.31 596.75,26.21 596.99,25.13 597.23,24.06 597.26,23.11 597.44,37.69 597.61,23.11 597.7,22.34 597.94,21.67 598.17,21.01 598.41,20.37 598.65,19.74 598.88,19.13 599.12,18.55 599.36,17.98 599.6,17.43 599.83,16.9 600.07,16.4 600.31,15.91 600.54,15.45 600.78,15.01 601.02,14.6 601.25,14.21 601.49,13.84 601.73,13.5 601.97,13.18 602.2,12.88 602.44,12.61 602.66,12.38 602.68,12.4 602.91,12.65 603.15,12.93 603.39,13.23 603.63,13.56 603.86,13.91 604.1,14.28 604.34,14.68 604.57,15.1 604.81,15.55 605.05,16.02 605.28,16.51 605.52,17.02 605.76,17.55 606,18.11 606.23,18.68 606.47,19.28 606.71,19.89 606.94,20.52 607.18,21.17 607.42,21.84 607.65,22.52 607.88,23.7 608.06,9.12 608.23,23.7 608.37,25.07 608.6,26.12 608.84,27.19 609.08,28.27 609.31,29.35 609.55,30.45 609.79,31.55 610.03,32.66 610.26,33.77 610.5,34.89 610.74,36.01 610.97,37.14 611.21,38.26 611.45,39.34 611.68,40.42 611.92,41.5 612.16,42.57 612.4,43.64 612.63,44.7 612.87,45.76 613.11,46.81 613.34,47.85 613.58,48.88 613.82,49.91 613.92,51.1 614.1,37.06 614.27,51.1 614.29,51.68 614.53,52.39 614.77,53.07 615,53.75 615.24,54.41 615.48,55.05 615.71,55.67 615.95,56.28 616.19,56.87 616.43,57.44 616.66,57.99 616.9,58.53 617.14,59.04 617.37,59.53 617.61,60 617.85,60.44 618.08,60.87 618.32,61.27 618.56,61.65 618.8,62 619.03,62.34 619.27,62.65 619.51,62.93 619.73,63.18 619.74,63.17 619.98,62.93 620.22,62.67 620.45,62.39 620.69,62.08 620.93,61.75 621.17,61.4 621.4,61.02 621.64,60.62 621.88,60.2 622.11,59.76 622.35,59.29 622.59,58.81 622.83,58.3 623.06,57.77 623.3,57.23 623.54,56.66 623.77,56.08 624.01,55.48 624.25,54.87 624.48,54.23 624.72,53.59 624.96,52.92 625.2,52.25 625.36,51.26 625.54,65.25 625.71,51.26 625.91,49.61 626.14,48.55 626.38,47.48 626.62,46.4 626.85,45.31 627.09,44.22 627.33,43.12 627.57,42.02 627.8,40.91 628.04,39.8 628.28,38.69 628.51,37.56 628.75,36.4 628.99,35.25 629.22,34.1 629.46,32.96 629.7,31.82 629.94,30.69 630.17,29.56 630.41,28.45 630.65,27.34 630.88,26.24 631.12,25.16 631.36,24.09 631.4,23.11 631.58,37.69 631.75,23.11 631.83,22.36 632.07,21.69 632.31,21.03 632.54,20.39 632.78,19.76 633.02,19.15 633.25,18.56 633.49,18 633.73,17.45 633.97,16.92 634.2,16.41 634.44,15.93 634.68,15.47 634.91,15.03 635.15,14.61 635.39,14.22 635.62,13.85 635.86,13.51 636.1,13.19 636.34,12.89 636.57,12.62 636.8,12.38 636.81,12.39 637.05,12.64 637.28,12.92 637.52,13.22 637.76,13.55 638,13.9 638.23,14.27 638.47,14.67 638.71,15.09 638.94,15.54 639.18,16 639.42,16.49 639.65,17.01 639.89,17.54 640.13,18.09 640.37,18.67 640.6,19.26 640.84,19.87 641.08,20.5 641.31,21.15 641.55,21.82 641.79,22.5 642.02,23.7 642.2,9.12 642.37,23.7 642.5,25.04 642.74,26.09 642.97,27.16 643.21,28.23 643.45,29.32 643.68,30.42 643.92,31.52 644.16,32.63 644.4,33.74 644.63,34.86 644.87,35.98 645.11,37.1 645.34,38.23 645.58,39.31 645.82,40.39 646.05,41.46 646.29,42.54 646.53,43.6 646.77,44.67 647,45.73 647.24,46.78 647.48,47.82 647.71,48.85 647.95,49.88 648.06,51.1 648.24,37.06 648.41,51.1 648.42,51.66 648.66,52.37 648.9,53.05 649.14,53.73 649.37,54.39 649.61,55.03 649.85,55.66 650.08,56.26 650.32,56.85 650.56,57.43 650.8,57.98 651.03,58.51 651.27,59.02 651.51,59.51 651.74,59.98 651.98,60.43 652.22,60.85 652.45,61.26 652.69,61.64 652.93,61.99 653.17,62.33 653.4,62.64 653.64,62.92 653.87,63.18 653.88,63.17 654.11,62.94 654.35,62.68 654.59,62.4 654.82,62.09 655.06,61.76 655.3,61.41 655.54,61.03 655.77,60.63 656.01,60.21 656.25,59.77 656.48,59.31 656.72,58.82 656.96,58.31 657.2,57.79 657.43,57.24 657.67,56.68 657.91,56.1 658.14,55.5 658.38,54.88 658.62,54.25 658.85,53.61 659.09,52.94 659.33,52.27 659.5,51.26 659.68,65.25 659.85,51.26 660.04,49.65 660.28,48.58 660.51,47.51 660.75,46.43 660.99,45.34 661.22,44.25 661.46,43.15 661.7,42.05 661.94,40.94 662.17,39.84 662.41,38.73 662.65,37.59 662.88,36.44 663.12,35.28 663.36,34.14 663.59,32.99 663.83,31.85 664.07,30.72 664.31,29.6 664.54,28.48 664.78,27.37 665.02,26.28 665.25,25.19 665.49,24.12 665.54,23.11 665.72,37.69 665.89,23.11 665.97,22.38 666.2,21.71 666.44,21.05 666.68,20.4 666.91,19.78 667.15,19.17 667.39,18.58 667.62,18.01 667.86,17.46 668.1,16.93 668.34,16.43 668.57,15.94 668.81,15.48 669.05,15.04 669.28,14.62 669.52,14.23 669.76,13.86 669.99,13.52 670.23,13.19 670.47,12.9 670.71,12.63 670.94,12.38 670.94,12.38 671.18,12.63 671.42,12.91 671.65,13.21 671.89,13.54 672.13,13.89 672.37,14.26 672.6,14.66 672.84,15.08 673.08,15.52 673.31,15.99 673.55,16.48 673.79,16.99 674.02,17.52 674.26,18.08 674.5,18.65 674.74,19.24 674.97,19.85 675.21,20.48 675.45,21.13 675.68,21.8 675.92,22.48 676.16,23.7 676.34,9.12 676.51,23.7 676.63,25 676.87,26.06 677.11,27.13 677.34,28.2 677.58,29.29 677.82,30.38 678.05,31.48 678.29,32.59 678.53,33.71 678.77,34.82 679,35.95 679.24,37.07 679.48,38.19 679.71,39.28 679.95,40.36 680.19,41.43 680.42,42.5 680.66,43.57 680.9,44.64 681.14,45.7 681.37,46.75 681.61,47.79 681.85,48.82 682.08,49.85 682.2,51.1 682.38,37.06 682.55,51.1 682.79,52.34 683.03,53.03 683.27,53.71 683.51,54.37 683.74,55.01 683.98,55.64 684.22,56.25 684.45,56.84 684.69,57.41 684.93,57.96 685.17,58.5 685.4,59.01 685.64,59.5 685.88,59.97 686.11,60.42 686.35,60.84 686.59,61.25 686.82,61.63 687.06,61.98 687.3,62.32 687.54,62.63 687.77,62.91 688.01,63.18 688.01,63.18 688.25,62.95 688.48,62.69 688.72,62.41 688.96,62.1 689.19,61.77 689.43,61.42 689.67,61.04 689.91,60.64 690.14,60.22 690.38,59.78 690.62,59.32 690.85,58.84 691.09,58.33 691.33,57.81" stroke="#c8141c" stroke-width="1.35" fill="none" stroke-linejoin="round"/></g>
<path d="M400.45 74.3v-2.5M400.45 2.4v2.5M434.59 74.3v-2.5M434.59 2.4v2.5M468.73 74.3v-2.5M468.73 2.4v2.5M502.87 74.3v-2.5M502.87 2.4v2.5M537.01 74.3v-2.5M537.01 2.4v2.5M571.15 74.3v-2.5M571.15 2.4v2.5M605.29 74.3v-2.5M605.29 2.4v2.5M639.43 74.3v-2.5M639.43 2.4v2.5M673.57 74.3v-2.5M673.57 2.4v2.5M389.3 5.9h2.5M684.5 5.9h-2.5M389.3 38.3h2.5M684.5 38.3h-2.5M389.3 69.4h2.5M684.5 69.4h-2.5" stroke="#5c5866" stroke-width="1" fill="none"/>
<rect x="389.3" y="2.4" width="295.2" height="71.9" stroke="#5c5866" stroke-width="1" fill="none"/>
<text transform="translate(391.49,86.45) scale(1.02,1)" font-size="8.85" fill="#383838">0.06</text>
<text transform="translate(425.63,86.45) scale(1.02,1)" font-size="8.85" fill="#383838">0.08</text>
<g transform="translate(462.3,86.45) scale(1.02,1)"><text x="0" y="0" font-size="8.85" fill="#383838">0.1</text><g fill="#fff"><rect x="7.9" y="-0.74" width="1.71" height="1.29"/><rect x="10.39" y="-0.74" width="1.64" height="1.29"/></g></g>
<g transform="translate(493.94,86.45) scale(1.02,1)"><text x="0" y="0" font-size="8.85" fill="#383838">0.12</text><g fill="#fff"><rect x="7.9" y="-0.74" width="1.71" height="1.29"/><rect x="10.39" y="-0.74" width="1.64" height="1.29"/></g></g>
<g transform="translate(527.98,86.45) scale(1.02,1)"><text x="0" y="0" font-size="8.85" fill="#383838">0.14</text><g fill="#fff"><rect x="7.9" y="-0.74" width="1.71" height="1.29"/><rect x="10.39" y="-0.74" width="1.64" height="1.29"/></g></g>
<g transform="translate(562.19,86.45) scale(1.02,1)"><text x="0" y="0" font-size="8.85" fill="#383838">0.16</text><g fill="#fff"><rect x="7.9" y="-0.74" width="1.71" height="1.29"/><rect x="10.39" y="-0.74" width="1.64" height="1.29"/></g></g>
<g transform="translate(596.33,86.45) scale(1.02,1)"><text x="0" y="0" font-size="8.85" fill="#383838">0.18</text><g fill="#fff"><rect x="7.9" y="-0.74" width="1.71" height="1.29"/><rect x="10.39" y="-0.74" width="1.64" height="1.29"/></g></g>
<text transform="translate(633.01,86.45) scale(1.02,1)" font-size="8.85" fill="#383838">0.2</text>
<text transform="translate(664.64,86.45) scale(1.02,1)" font-size="8.85" fill="#383838">0.22</text>
<g transform="translate(371.71,10.15)"><text x="0" y="0" font-size="8.4" fill="#383838">100</text><g fill="#fff"><rect x="0.49" y="-0.71" width="1.62" height="1.26"/><rect x="2.85" y="-0.71" width="1.56" height="1.26"/></g></g>
<text x="381.06" y="41.8" font-size="8.4" fill="#383838">0</text>
<g transform="translate(368.92,73.95)"><text x="0" y="0" font-size="8.4" fill="#383838">-100</text><g fill="#fff"><rect x="3.29" y="-0.71" width="1.62" height="1.26"/><rect x="5.65" y="-0.71" width="1.56" height="1.26"/></g></g>
<text x="516.29" y="99.4" font-size="11.2" fill="#161616">Time (s)</text>
<text transform="translate(360.1,56.7) rotate(-90)" font-size="10.6" fill="#161616">I</text>
<text transform="translate(366.1,53.75) rotate(-90)" font-size="8.85" fill="#161616">grid</text>
<text transform="translate(360.1,33.7) rotate(-90)" font-size="10.6" fill="#161616">(A)</text>
<text x="524.26" y="121.5" font-size="18.6" fill="#111" font-family="Liberation Serif">(b)</text>
<clipPath id="cc"><rect x="198.1" y="147.4" width="329.2" height="65"/></clipPath>
<path d="M210.8 147.4V212.4M248.93 147.4V212.4M287.05 147.4V212.4M325.18 147.4V212.4M363.3 147.4V212.4M401.43 147.4V212.4M439.55 147.4V212.4M477.68 147.4V212.4M515.8 147.4V212.4M198.1 159.2H527.3M198.1 179.5H527.3M198.1 199.8H527.3" stroke="#9a949c" stroke-width="1" fill="none"/>
<g clip-path="url(#cc)"><path d="M190.47,210.42 190.74,210.02 191,209.56 191.27,209.04 191.53,208.47 191.8,207.84 192.06,207.16 192.33,206.42 192.59,205.64 192.86,204.8 193.12,203.92 193.39,202.99 193.65,202.01 193.91,201 194.18,199.94 194.44,198.84 194.71,197.71 194.97,196.54 195.24,195.34 195.5,194.11 195.53,193.16 195.7,198.84 195.88,193.16 196.03,191.57 196.3,190.26 196.56,188.93 196.82,187.59 197.09,186.23 197.35,184.85 197.62,183.47 197.88,182.08 198.15,180.68 198.41,179.29 198.68,177.89 198.94,176.49 199.21,175.11 199.47,173.72 199.73,172.35 200,171 200.26,169.66 200.53,168.34 200.79,167.04 201.06,165.76 201.25,164.05 201.42,169.73 201.6,164.05 201.85,162.1 202.12,160.94 202.38,159.82 202.64,158.73 202.91,157.69 203.17,156.68 203.44,155.72 203.7,154.81 203.97,153.94 204.23,153.12 204.5,152.35 204.76,151.63 205.03,150.96 205.29,150.35 205.55,149.8 205.82,149.3 206.08,148.86 206.35,148.47 206.61,148.15 206.88,147.88 207.14,147.68 207.41,147.53 207.67,147.45 207.94,147.43 208.2,147.46 208.46,147.56 208.73,147.72 208.99,147.94 209.26,148.22 209.52,148.56 209.79,148.96 210.05,149.42 210.32,149.93 210.58,150.5 210.85,151.13 211.11,151.8 211.37,152.54 211.64,153.32 211.9,154.15 212.17,155.03 212.43,155.96 212.7,156.93 212.96,157.95 213.23,159 213.49,160.1 213.76,161.23 214.02,162.39 214.21,164.05 214.38,158.36 214.56,164.05 214.81,166.08 215.08,167.36 215.34,168.67 215.61,169.99 215.87,171.34 216.14,172.7 216.4,174.07 216.67,175.45 216.93,176.84 217.2,178.24 217.46,179.64 217.72,181.03 217.99,182.43 218.25,183.82 218.52,185.2 218.78,186.57 219.05,187.93 219.31,189.27 219.58,190.59 219.84,191.89 220.11,193.17 220.37,194.42 220.63,195.64 220.8,197.19 220.98,191.51 221.15,197.19 221.16,198 221.43,199.12 221.69,200.21 221.96,201.26 222.22,202.26 222.49,203.23 222.75,204.14 223.02,205.02 223.28,205.84 223.54,206.61 223.81,207.33 224.07,208 224.34,208.61 224.6,209.17 224.87,209.68 225.13,210.12 225.4,210.51 225.66,210.84 225.93,211.1 226.19,211.31 226.45,211.46 226.72,211.55 226.98,211.57 227.25,211.54 227.51,211.44 227.78,211.29 228.04,211.07 228.31,210.79 228.57,210.46 228.84,210.06 229.1,209.61 229.36,209.1 229.63,208.53 229.89,207.91 230.16,207.23 230.42,206.51 230.69,205.73 230.95,204.9 231.22,204.02 231.48,203.09 231.75,202.12 232.01,201.11 232.27,200.06 232.54,198.97 232.8,197.84 233.07,196.67 233.33,195.47 233.6,194.25 233.65,193.16 233.83,198.84 234,193.16 234.13,191.71 234.39,190.41 234.66,189.08 234.92,187.74 235.18,186.38 235.45,185.01 235.71,183.62 235.98,182.23 236.24,180.84 236.51,179.44 236.77,178.04 237.04,176.65 237.3,175.26 237.57,173.88 237.83,172.51 238.09,171.15 238.36,169.81 238.62,168.48 238.89,167.18 239.15,165.9 239.37,164.05 239.55,169.73 239.72,164.05 239.95,162.23 240.21,161.07 240.48,159.94 240.74,158.85 241,157.8 241.27,156.79 241.53,155.83 241.8,154.91 242.06,154.03 242.33,153.21 242.59,152.43 242.86,151.71 243.12,151.03 243.39,150.42 243.65,149.86 243.92,149.35 244.18,148.9 244.44,148.51 244.71,148.18 244.97,147.91 245.24,147.7 245.5,147.55 245.77,147.46 246.03,147.43 246.3,147.46 246.56,147.55 246.83,147.7 247.09,147.92 247.35,148.19 247.62,148.52 247.88,148.91 248.15,149.36 248.41,149.87 248.68,150.44 248.94,151.05 249.21,151.73 249.47,152.45 249.74,153.23 250,154.06 250.26,154.93 250.53,155.85 250.79,156.82 251.06,157.83 251.32,158.88 251.59,159.97 251.85,161.1 252.12,162.26 252.33,164.05 252.51,158.36 252.68,164.05 252.91,165.94 253.17,167.22 253.44,168.52 253.7,169.85 253.97,171.19 254.23,172.55 254.5,173.92 254.76,175.3 255.03,176.69 255.29,178.08 255.56,179.48 255.82,180.88 256.08,182.28 256.35,183.67 256.61,185.05 256.88,186.42 257.14,187.78 257.41,189.12 257.67,190.45 257.94,191.75 258.2,193.03 258.47,194.28 258.73,195.51 258.93,197.19 259.1,191.51 259.28,197.19 259.52,199 259.79,200.09 260.05,201.14 260.32,202.15 260.58,203.12 260.85,204.04 261.11,204.92 261.38,205.75 261.64,206.53 261.9,207.26 262.17,207.93 262.43,208.55 262.7,209.11 262.96,209.62 263.23,210.07 263.49,210.47 263.76,210.8 264.02,211.08 264.29,211.29 264.55,211.45 264.81,211.54 265.08,211.57 265.34,211.55 265.61,211.46 265.87,211.31 266.14,211.1 266.4,210.83 266.67,210.5 266.93,210.11 267.2,209.66 267.46,209.16 267.72,208.6 267.99,207.98 268.25,207.31 268.52,206.59 268.78,205.81 269.05,204.99 269.31,204.12 269.58,203.2 269.84,202.23 270.11,201.23 270.37,200.18 270.64,199.09 270.9,197.96 271.16,196.8 271.43,195.61 271.69,194.38 271.78,193.16 271.95,198.84 272.13,193.16 272.22,191.85 272.49,190.55 272.75,189.23 273.02,187.89 273.28,186.53 273.55,185.16 273.81,183.78 274.07,182.39 274.34,180.99 274.6,179.59 274.87,178.2 275.13,176.8 275.4,175.41 275.66,174.03 275.93,172.66 276.19,171.3 276.46,169.95 276.72,168.63 276.98,167.32 277.25,166.04 277.5,164.05 277.67,169.73 277.85,164.05 278.04,162.36 278.31,161.19 278.57,160.06 278.84,158.97 279.1,157.91 279.37,156.9 279.63,155.93 279.89,155 280.16,154.13 280.42,153.29 280.69,152.51 280.95,151.78 281.22,151.11 281.48,150.48 281.75,149.91 282.01,149.4 282.28,148.95 282.54,148.55 282.8,148.21 283.07,147.94 283.33,147.72 283.6,147.56 283.86,147.46 284.13,147.43 284.39,147.45 284.66,147.54 284.92,147.68 285.19,147.89 285.45,148.16 285.71,148.48 285.98,148.87 286.24,149.31 286.51,149.81 286.77,150.37 287.04,150.98 287.3,151.65 287.57,152.37 287.83,153.14 288.1,153.96 288.36,154.83 288.62,155.75 288.89,156.71 289.15,157.72 289.42,158.77 289.68,159.85 289.95,160.97 290.21,162.13 290.46,164.05 290.63,158.36 290.81,164.05 291.01,165.8 291.27,167.08 291.53,168.38 291.8,169.7 292.06,171.04 292.33,172.4 292.59,173.77 292.86,175.15 293.12,176.54 293.39,177.93 293.65,179.33 293.92,180.73 294.18,182.12 294.44,183.51 294.71,184.9 294.97,186.27 295.24,187.63 295.5,188.97 295.77,190.3 296.03,191.61 296.3,192.89 296.56,194.15 296.83,195.38 297.05,197.19 297.23,191.51 297.4,197.19 297.62,198.88 297.88,199.97 298.15,201.03 298.41,202.04 298.68,203.02 298.94,203.95 299.21,204.83 299.47,205.66 299.74,206.44 300,207.18 300.27,207.86 300.53,208.48 300.79,209.06 301.06,209.57 301.32,210.03 301.59,210.43 301.85,210.77 302.12,211.05 302.38,211.27 302.65,211.43 302.91,211.53 303.18,211.57 303.44,211.55 303.7,211.47 303.97,211.33 304.23,211.12 304.5,210.86 304.76,210.54 305.03,210.15 305.29,209.71 305.56,209.22 305.82,208.66 306.09,208.05 306.35,207.39 306.61,206.67 306.88,205.9 307.14,205.08 307.41,204.22 307.67,203.3 307.94,202.34 308.2,201.34 308.47,200.29 308.73,199.21 309,198.09 309.26,196.93 309.52,195.74 309.79,194.52 309.9,193.16 310.08,198.84 310.25,193.16 310.32,191.99 310.58,190.7 310.85,189.37 311.11,188.04 311.38,186.68 311.64,185.31 311.91,183.93 312.17,182.54 312.43,181.15 312.7,179.75 312.96,178.35 313.23,176.95 313.49,175.56 313.76,174.18 314.02,172.81 314.29,171.45 314.55,170.1 314.82,168.77 315.08,167.46 315.34,166.18 315.61,164.92 315.62,164.05 315.8,169.73 315.97,164.05 316.14,162.49 316.4,161.32 316.67,160.19 316.93,159.09 317.2,158.03 317.46,157.01 317.73,156.04 317.99,155.1 318.25,154.22 318.52,153.38 318.78,152.6 319.05,151.86 319.31,151.18 319.58,150.55 319.84,149.97 320.11,149.46 320.37,149 320.64,148.59 320.9,148.25 321.16,147.96 321.43,147.74 321.69,147.57 321.96,147.47 322.22,147.43 322.49,147.45 322.75,147.52 323.02,147.66 323.28,147.86 323.55,148.12 323.81,148.44 324.08,148.82 324.34,149.26 324.6,149.76 324.87,150.31 325.13,150.91 325.4,151.57 325.66,152.29 325.93,153.05 326.19,153.87 326.46,154.74 326.72,155.65 326.99,156.6 327.25,157.61 327.51,158.65 327.78,159.73 328.04,160.85 328.31,162 328.57,163.19 328.58,164.05 328.76,158.36 328.93,164.05 329.1,165.66 329.37,166.93 329.63,168.23 329.9,169.55 330.16,170.89 330.42,172.25 330.69,173.61 330.95,174.99 331.22,176.38 331.48,177.78 331.75,179.17 332.01,180.57 332.28,181.97 332.54,183.36 332.81,184.74 333.07,186.12 333.33,187.48 333.6,188.83 333.86,190.16 334.13,191.46 334.39,192.75 334.66,194.01 334.92,195.24 335.18,197.19 335.35,191.51 335.53,197.19 335.72,198.75 335.98,199.85 336.24,200.91 336.51,201.93 336.77,202.91 337.04,203.85 337.3,204.73 337.57,205.57 337.83,206.36 338.1,207.1 338.36,207.79 338.63,208.42 338.89,208.99 339.15,209.52 339.42,209.98 339.68,210.39 339.95,210.73 340.21,211.02 340.48,211.25 340.74,211.42 341.01,211.53 341.27,211.57 341.54,211.56 341.8,211.48 342.06,211.35 342.33,211.15 342.59,210.89 342.86,210.57 343.12,210.2 343.39,209.77 343.65,209.27 343.92,208.73 344.18,208.12 344.45,207.46 344.71,206.75 344.97,205.99 345.24,205.18 345.5,204.31 345.77,203.4 346.03,202.45 346.3,201.45 346.56,200.41 346.83,199.33 347.09,198.21 347.36,197.06 347.62,195.87 347.88,194.66 348.03,193.16 348.2,198.84 348.38,193.16 348.41,192.14 348.68,190.84 348.94,189.52 349.21,188.18 349.47,186.83 349.74,185.46 350,184.08 350.27,182.69 350.53,181.3 350.8,179.9 351.06,178.5 351.32,177.11 351.59,175.72 351.85,174.33 352.12,172.96 352.38,171.59 352.65,170.25 352.91,168.92 353.18,167.61 353.44,166.32 353.71,165.06 353.75,164.05 353.92,169.73 354.1,164.05 354.23,162.62 354.5,161.45 354.76,160.31 355.03,159.21 355.29,158.14 355.56,157.12 355.82,156.14 356.09,155.2 356.35,154.32 356.62,153.47 356.88,152.68 357.14,151.94 357.41,151.25 357.67,150.62 357.94,150.04 358.2,149.51 358.47,149.04 358.73,148.63 359,148.28 359.26,147.99 359.53,147.76 359.79,147.59 360.05,147.48 360.32,147.43 360.58,147.44 360.85,147.51 361.11,147.65 361.38,147.84 361.64,148.09 361.91,148.41 362.17,148.78 362.44,149.21 362.7,149.7 362.96,150.24 363.23,150.84 363.49,151.5 363.76,152.21 364.02,152.97 364.29,153.78 364.55,154.64 364.82,155.54 365.08,156.5 365.35,157.49 365.61,158.53 365.87,159.61 366.14,160.72 366.4,161.88 366.67,163.06 366.71,164.05 366.88,158.36 367.06,164.05 367.2,165.52 367.46,166.79 367.73,168.09 367.99,169.41 368.26,170.74 368.52,172.1 368.78,173.46 369.05,174.84 369.31,176.23 369.58,177.62 369.84,179.02 370.11,180.42 370.37,181.81 370.64,183.21 370.9,184.59 371.17,185.97 371.43,187.33 371.69,188.68 371.96,190.01 372.22,191.32 372.49,192.61 372.75,193.87 373.02,195.11 373.28,196.31 373.3,197.19 373.48,191.51 373.65,197.19 373.81,198.63 374.08,199.73 374.34,200.8 374.6,201.82 374.87,202.81 375.13,203.74 375.4,204.64 375.66,205.48 375.93,206.28 376.19,207.02 376.46,207.71 376.72,208.35 376.99,208.93 377.25,209.46 377.52,209.93 377.78,210.34 378.04,210.7 378.31,210.99 378.57,211.23 378.84,211.4 379.1,211.52 379.37,211.57 379.63,211.56 379.9,211.49 380.16,211.36 380.43,211.17 380.69,210.92 380.95,210.61 381.22,210.24 381.48,209.82 381.75,209.33 382.01,208.79 382.28,208.19 382.54,207.54 382.81,206.83 383.07,206.08 383.34,205.27 383.6,204.41 383.86,203.51 384.13,202.56 384.39,201.56 384.66,200.53 384.92,199.45 385.19,198.34 385.45,197.19 385.72,196.01 385.98,194.79 386.15,193.16 386.33,198.84 386.5,193.16 386.77,190.98 387.04,189.67 387.3,188.33 387.57,186.98 387.83,185.61 388.1,184.23 388.36,182.85 388.63,181.45 388.89,180.06 389.16,178.66 389.42,177.26 389.68,175.87 389.95,174.48 390.21,173.11 390.48,171.74 390.74,170.39 391.01,169.06 391.27,167.75 391.54,166.46 391.8,165.2 391.87,164.05 392.05,169.73 392.22,164.05 392.33,162.75 392.59,161.57 392.86,160.43 393.12,159.33 393.39,158.26 393.65,157.23 393.92,156.25 394.18,155.31 394.45,154.41 394.71,153.56 394.98,152.77 395.24,152.02 395.5,151.32 395.77,150.68 396.03,150.1 396.3,149.57 396.56,149.09 396.83,148.68 397.09,148.32 397.36,148.02 397.62,147.78 397.89,147.61 398.15,147.49 398.41,147.43 398.68,147.44 398.94,147.5 399.21,147.63 399.47,147.81 399.74,148.06 400,148.37 400.27,148.73 400.53,149.16 400.8,149.64 401.06,150.18 401.32,150.77 401.59,151.42 401.85,152.13 402.12,152.88 402.38,153.69 402.65,154.54 402.91,155.44 403.18,156.39 403.44,157.38 403.71,158.41 403.97,159.49 404.24,160.6 404.5,161.75 404.76,162.93 404.83,164.05 405.01,158.36 405.18,164.05 405.29,165.38 405.56,166.65 405.82,167.94 406.09,169.26 406.35,170.59 406.62,171.95 406.88,173.31 407.15,174.69 407.41,176.08 407.67,177.47 407.94,178.87 408.2,180.26 408.47,181.66 408.73,183.05 409,184.44 409.26,185.82 409.53,187.18 409.79,188.53 410.06,189.86 410.32,191.18 410.58,192.47 410.85,193.73 411.11,194.97 411.38,196.18 411.43,197.19 411.6,191.51 411.78,197.19 411.91,198.51 412.17,199.61 412.44,200.68 412.7,201.71 412.97,202.7 413.23,203.64 413.49,204.54 413.76,205.39 414.02,206.19 414.29,206.94 414.55,207.64 414.82,208.28 415.08,208.87 415.35,209.41 415.61,209.88 415.88,210.3 416.14,210.66 416.4,210.96 416.67,211.21 416.93,211.39 417.2,211.51 417.46,211.57 417.73,211.57 417.99,211.5 418.26,211.38 418.52,211.2 418.79,210.95 419.05,210.65 419.31,210.29 419.58,209.87 419.84,209.39 420.11,208.85 420.37,208.26 420.64,207.61 420.9,206.91 421.17,206.16 421.43,205.36 421.7,204.51 421.96,203.61 422.22,202.66 422.49,201.67 422.75,200.64 423.02,199.57 423.28,198.46 423.55,197.32 423.81,196.14 424.08,194.93 424.28,193.16 424.45,198.84 424.63,193.16 424.87,191.13 425.13,189.81 425.4,188.48 425.66,187.13 425.93,185.76 426.19,184.39 426.46,183 426.72,181.61 426.99,180.21 427.25,178.81 427.52,177.42 427.78,176.02 428.04,174.64 428.31,173.26 428.57,171.89 428.84,170.54 429.1,169.21 429.37,167.89 429.63,166.6 429.9,165.33 430,164.05 430.17,169.73 430.35,164.05 430.43,162.88 430.69,161.7 430.96,160.56 431.22,159.45 431.48,158.37 431.75,157.34 432.01,156.35 432.28,155.41 432.54,154.51 432.81,153.65 433.07,152.85 433.34,152.1 433.6,151.4 433.87,150.75 434.13,150.16 434.39,149.62 434.66,149.14 434.92,148.72 435.19,148.36 435.45,148.05 435.72,147.81 435.98,147.62 436.25,147.5 436.51,147.43 436.78,147.43 437.04,147.49 437.3,147.61 437.57,147.79 437.83,148.03 438.1,148.33 438.36,148.69 438.63,149.11 438.89,149.59 439.16,150.12 439.42,150.71 439.69,151.35 439.95,152.05 440.21,152.8 440.48,153.6 440.74,154.44 441.01,155.34 441.27,156.28 441.54,157.27 441.8,158.3 442.07,159.37 442.33,160.48 442.6,161.62 442.86,162.8 442.96,164.05 443.13,158.36 443.31,164.05 443.39,165.24 443.65,166.51 443.92,167.8 444.18,169.11 444.45,170.45 444.71,171.8 444.98,173.16 445.24,174.54 445.51,175.92 445.77,177.32 446.03,178.71 446.3,180.11 446.56,181.51 446.83,182.9 447.09,184.29 447.36,185.67 447.62,187.03 447.89,188.38 448.15,189.72 448.42,191.03 448.68,192.33 448.94,193.6 449.21,194.84 449.47,196.05 449.55,197.19 449.73,191.51 449.9,197.19 450,198.38 450.27,199.49 450.53,200.57 450.8,201.6 451.06,202.59 451.33,203.54 451.59,204.44 451.85,205.3 452.12,206.11 452.38,206.86 452.65,207.56 452.91,208.21 453.18,208.81 453.44,209.35 453.71,209.83 453.97,210.26 454.24,210.63 454.5,210.93 454.76,211.18 455.03,211.37 455.29,211.5 455.56,211.56 455.82,211.57 456.09,211.51 456.35,211.4 456.62,211.22 456.88,210.98 457.15,210.69 457.41,210.33 457.68,209.92 457.94,209.44 458.2,208.91 458.47,208.33 458.73,207.69 459,206.99 459.26,206.25 459.53,205.45 459.79,204.6 460.06,203.71 460.32,202.77 460.59,201.79 460.85,200.76 461.11,199.69 461.38,198.59 461.64,197.45 461.91,196.27 462.17,195.06 462.4,193.16 462.58,198.84 462.75,193.16 462.97,191.27 463.23,189.96 463.5,188.63 463.76,187.28 464.02,185.92 464.29,184.54 464.55,183.15 464.82,181.76 465.08,180.36 465.35,178.97 465.61,177.57 465.88,176.18 466.14,174.79 466.41,173.41 466.67,172.04 466.93,170.69 467.2,169.35 467.46,168.04 467.73,166.74 467.99,165.47 468.12,164.05 468.3,169.73 468.47,164.05 468.52,163.01 468.79,161.83 469.05,160.68 469.32,159.57 469.58,158.49 469.84,157.45 470.11,156.46 470.37,155.51 470.64,154.6 470.9,153.75 471.17,152.94 471.43,152.18 471.7,151.47 471.96,150.82 472.23,150.22 472.49,149.68 472.75,149.19 473.02,148.76 473.28,148.39 473.55,148.08 473.81,147.83 474.08,147.64 474.34,147.51 474.61,147.44 474.87,147.43 475.14,147.48 475.4,147.59 475.66,147.77 475.93,148 476.19,148.3 476.46,148.65 476.72,149.06 476.99,149.53 477.25,150.06 477.52,150.64 477.78,151.28 478.05,151.97 478.31,152.71 478.57,153.5 478.84,154.35 479.1,155.24 479.37,156.18 479.63,157.16 479.9,158.18 480.16,159.25 480.43,160.35 480.69,161.49 480.96,162.67 481.08,164.05 481.26,158.36 481.43,164.05 481.48,165.11 481.75,166.37 482.01,167.66 482.28,168.97 482.54,170.3 482.81,171.65 483.07,173.01 483.34,174.38 483.6,175.77 483.87,177.16 484.13,178.56 484.4,179.96 484.66,181.35 484.92,182.75 485.19,184.14 485.45,185.51 485.72,186.88 485.98,188.24 486.25,189.57 486.51,190.89 486.78,192.19 487.04,193.46 487.31,194.7 487.57,195.92 487.68,197.19 487.85,191.51 488.03,197.19 488.1,198.26 488.36,199.37 488.63,200.45 488.89,201.49 489.16,202.49 489.42,203.44 489.69,204.35 489.95,205.21 490.22,206.02 490.48,206.78 490.74,207.49 491.01,208.15 491.27,208.75 491.54,209.29 491.8,209.78 492.07,210.21 492.33,210.59 492.6,210.9 492.86,211.16 493.13,211.35 493.39,211.49 493.65,211.56 493.92,211.57 494.18,211.52 494.45,211.41 494.71,211.24 494.98,211.01 495.24,210.72 495.51,210.37 495.77,209.96 496.04,209.5 496.3,208.97 496.56,208.39 496.83,207.76 497.09,207.07 497.36,206.33 497.62,205.54 497.89,204.7 498.15,203.81 498.42,202.88 498.68,201.9 498.95,200.87 499.21,199.81 499.47,198.71 499.74,197.57 500,196.4 500.27,195.2 500.53,193.16 500.7,198.84 500.88,193.16 501.06,191.41 501.33,190.1 501.59,188.78 501.86,187.43 502.12,186.07 502.38,184.69 502.65,183.31 502.91,181.92 503.18,180.52 503.44,179.12 503.71,177.72 503.97,176.33 504.24,174.94 504.5,173.56 504.77,172.19 505.03,170.84 505.29,169.5 505.56,168.18 505.82,166.89 506.09,165.61 506.25,164.05 506.42,169.73 506.6,164.05 506.62,163.15 506.88,161.96 507.15,160.81 507.41,159.69 507.68,158.61 507.94,157.57 508.21,156.57 508.47,155.61 508.73,154.7 509,153.84 509.26,153.02 509.53,152.26 509.79,151.55 510.06,150.89 510.32,150.28 510.59,149.74 510.85,149.24 511.12,148.81 511.38,148.43 511.64,148.11 511.91,147.86 512.17,147.66 512.44,147.52 512.7,147.44 512.97,147.43 513.23,147.47 513.5,147.58 513.76,147.75 514.03,147.97 514.29,148.26 514.55,148.61 514.82,149.01 515.08,149.48 515.35,150 515.61,150.57 515.88,151.2 516.14,151.89 516.41,152.63 516.67,153.41 516.94,154.25 517.2,155.14 517.46,156.07 517.73,157.05 517.99,158.07 518.26,159.13 518.52,160.23 518.79,161.36 519.05,162.53 519.21,164.05 519.38,158.36 519.56,164.05 519.58,164.97 519.85,166.23 520.11,167.51 520.37,168.82 520.64,170.15 520.9,171.5 521.17,172.86 521.43,174.23 521.7,175.62 521.96,177.01 522.23,178.4 522.49,179.8 522.76,181.2 523.02,182.59 523.28,183.98 523.55,185.36 523.81,186.73 524.08,188.09 524.34,189.43 524.61,190.75 524.87,192.04 525.14,193.32 525.4,194.57 525.67,195.79 525.8,197.19 525.98,191.51 526.15,197.19 526.19,198.13 526.46,199.25 526.72,200.33 526.99,201.38 527.25,202.38 527.52,203.34 527.78,204.25 528.05,205.12 528.31,205.93 528.58,206.7 528.84,207.41 529.1,208.08 529.37,208.68 529.63,209.24 529.9,209.73 530.16,210.17 530.43,210.55 530.69,210.87 530.96,211.13 531.22,211.33 531.49,211.47 531.75,211.55 532.01,211.57 532.28,211.53 532.54,211.43 532.81,211.26 533.07,211.04 533.34,210.76 533.6,210.41 533.87,210.01 534.13,209.55 534.4,209.03 534.66,208.46 534.92,207.83" stroke="#b2141c" stroke-width="1.35" fill="none" stroke-linejoin="round"/></g>
<path d="M210.8 212.4v-2.5M210.8 147.4v2.5M248.93 212.4v-2.5M248.93 147.4v2.5M287.05 212.4v-2.5M287.05 147.4v2.5M325.18 212.4v-2.5M325.18 147.4v2.5M363.3 212.4v-2.5M363.3 147.4v2.5M401.43 212.4v-2.5M401.43 147.4v2.5M439.55 212.4v-2.5M439.55 147.4v2.5M477.68 212.4v-2.5M477.68 147.4v2.5M515.8 212.4v-2.5M515.8 147.4v2.5M198.1 159.2h2.5M527.3 159.2h-2.5M198.1 179.5h2.5M527.3 179.5h-2.5M198.1 199.8h2.5M527.3 199.8h-2.5" stroke="#3a3444" stroke-width="1" fill="none"/>
<rect x="198.1" y="147.4" width="329.2" height="65" stroke="#3a3444" stroke-width="1" fill="none"/>
<text transform="translate(201.75,225.7) scale(1.01,1)" font-size="10.0" fill="#383838">0.06</text>
<text transform="translate(239.87,225.7) scale(1.01,1)" font-size="10.0" fill="#383838">0.08</text>
<g transform="translate(280.83,225.7) scale(1.01,1)"><text x="0" y="0" font-size="10.0" fill="#383838">0.1</text><g fill="#fff"><rect x="8.93" y="-0.83" width="1.93" height="1.38"/><rect x="11.74" y="-0.83" width="1.86" height="1.38"/></g></g>
<g transform="translate(316.15,225.7) scale(1.01,1)"><text x="0" y="0" font-size="10.0" fill="#383838">0.12</text><g fill="#fff"><rect x="8.93" y="-0.83" width="1.93" height="1.38"/><rect x="11.74" y="-0.83" width="1.86" height="1.38"/></g></g>
<g transform="translate(354.17,225.7) scale(1.01,1)"><text x="0" y="0" font-size="10.0" fill="#383838">0.14</text><g fill="#fff"><rect x="8.93" y="-0.83" width="1.93" height="1.38"/><rect x="11.74" y="-0.83" width="1.86" height="1.38"/></g></g>
<g transform="translate(392.37,225.7) scale(1.01,1)"><text x="0" y="0" font-size="10.0" fill="#383838">0.16</text><g fill="#fff"><rect x="8.93" y="-0.83" width="1.93" height="1.38"/><rect x="11.74" y="-0.83" width="1.86" height="1.38"/></g></g>
<g transform="translate(430.49,225.7) scale(1.01,1)"><text x="0" y="0" font-size="10.0" fill="#383838">0.18</text><g fill="#fff"><rect x="8.93" y="-0.83" width="1.93" height="1.38"/><rect x="11.74" y="-0.83" width="1.86" height="1.38"/></g></g>
<text transform="translate(471.46,225.7) scale(1.01,1)" font-size="10.0" fill="#383838">0.2</text>
<text transform="translate(506.78,225.7) scale(1.01,1)" font-size="10.0" fill="#383838">0.22</text>
<text x="184.3" y="163.45" font-size="9.5" fill="#383838">50</text>
<text x="189.59" y="184.55" font-size="9.5" fill="#383838">0</text>
<text x="181.14" y="204.35" font-size="9.5" fill="#383838">-50</text>
<text x="339.65" y="240.4" font-size="12.6" fill="#161616">Time (s)</text>
<text transform="translate(170.9,199.9) rotate(-90)" font-size="11.7" fill="#161616">I</text>
<text transform="translate(177.4,196.6) rotate(-90)" font-size="9.4" fill="#161616">grid</text>
<text transform="translate(170.9,174.4) rotate(-90)" font-size="11.7" fill="#161616">(A)</text>
<text x="347.86" y="260.7" font-size="18.0" fill="#111" font-family="Liberation Serif">(c)</text>
<path d="M0 0.5H685" stroke="#a6a6a6" stroke-width="1" fill="none"/><path d="M0.5 0V266" stroke="#9c9c9c" stroke-width="1" fill="none"/><path d="M684.5 0V266" stroke="#606060" stroke-width="1" fill="none"/><path d="M0 265.5H685" stroke="#6a6a6a" stroke-width="1" fill="none"/>
</g>
</svg>
</body></html>
